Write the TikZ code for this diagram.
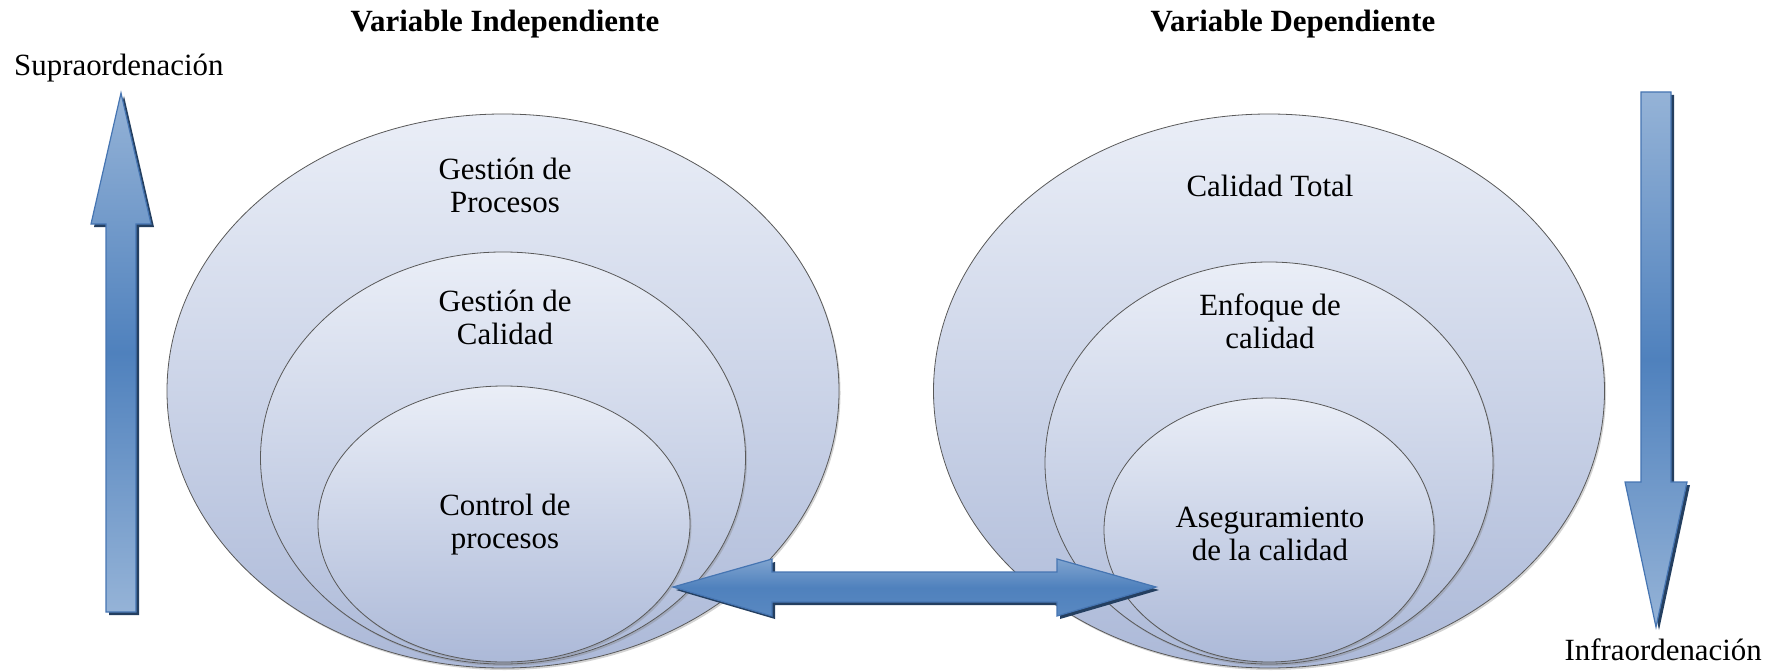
\documentclass[tikz,border=0pt]{standalone}
\usepackage{fontspec}
\setmainfont{Liberation Serif}
\usetikzlibrary{shapes.geometric,shadows}
\definecolor{elltop}{RGB}{234,238,247}
\definecolor{ellbot}{RGB}{172,185,216}
\definecolor{arrdark}{RGB}{79,129,189}
\definecolor{arrlight}{RGB}{149,179,215}
\definecolor{arredge}{RGB}{70,117,178}
\definecolor{arrshadow}{RGB}{36,63,96}
\begin{document}
\begin{tikzpicture}[x=1bp,y=-1bp,
  ell/.style={ellipse, draw=black!65, line width=0.8bp, inner sep=0pt,
    top color=elltop, bottom color=ellbot,
    drop shadow={opacity=0.35, shadow xshift=1.5bp, shadow yshift=-2bp}},
  lbl/.style={font=\fontsize{31}{33}\selectfont, align=center, inner sep=0pt},
  ttl/.style={font=\fontsize{31}{33}\selectfont\bfseries, inner sep=0pt},
  vshade/.style={draw=arredge, line width=1.2bp, top color=arrlight, bottom color=arrlight, middle color=arrdark},
  hshade/.style={draw=arredge, line width=1.2bp, top color=arrlight!70!arrdark, bottom color=arrdark!85!arrlight, middle color=arrdark},
  shad/.style={fill=arrshadow, shift={(3,3)}}]
\useasboundingbox (0,0) rectangle (1778,672);

% left nested ellipses
\node[ell, minimum width=672bp, minimum height=554bp] (lo) at (503,391) {};
\node[ell, minimum width=485bp, minimum height=412bp] (lm) at (503,458) {};
\node[ell, minimum width=372bp, minimum height=276bp] (li) at (504,524) {};
% right nested ellipses
\node[ell, minimum width=671bp, minimum height=554bp] (ro) at (1269,391) {};
\node[ell, minimum width=448bp, minimum height=402bp] (rm) at (1269,463) {};
\node[ell, minimum width=330bp, minimum height=264bp] (ri) at (1269,530) {};

% labels
\node[lbl] (tlo) at (505,185) {Gestión de\\Procesos};
\node[lbl] (tlm) at (505,317) {Gestión de\\Calidad};
\node[lbl] (tli) at (505,525) {Control de\\procesos};
\node[lbl] (tro) at (1270,186) {Calidad Total};
\node[lbl] (trm) at (1270,321) {Enfoque de\\calidad};
\node[lbl] (tri) at (1270,534) {Aseguramiento\\de la calidad};

% titles
\node[ttl] (vi) at (505,24) {Variable Independiente};
\node[ttl] (vd) at (1293,24) {Variable Dependiente};
\node[lbl, anchor=west] (sup) at (14,68) {Supraordenación};
\node[lbl, anchor=east] (inf) at (1762,650) {Infraordenación};

% double arrow between inner ellipses
\path[shad] (673,587) -- (772,559) -- (772,572) -- (1057,572) -- (1057,559) -- (1156,587)
  -- (1057,616) -- (1057,602) -- (772,602) -- (772,616) -- cycle;
\path[hshade] (673,587) -- (772,559) -- (772,572) -- (1057,572) -- (1057,559) -- (1156,587)
  -- (1057,616) -- (1057,602) -- (772,602) -- (772,616) -- cycle;

% up arrow
\path[shad] (106,612) -- (106,224) -- (91,224) -- (121,93) -- (151,224) -- (136,224) -- (136,612) -- cycle;
\path[vshade] (106,612) -- (106,224) -- (91,224) -- (121,93) -- (151,224) -- (136,224) -- (136,612) -- cycle;

% down arrow
\path[shad] (1641,92) -- (1671,92) -- (1671,482) -- (1687,482) -- (1656,627) -- (1625,482) -- (1641,482) -- cycle;
\path[vshade] (1641,92) -- (1671,92) -- (1671,482) -- (1687,482) -- (1656,627) -- (1625,482) -- (1641,482) -- cycle;
\end{tikzpicture}
\end{document}
